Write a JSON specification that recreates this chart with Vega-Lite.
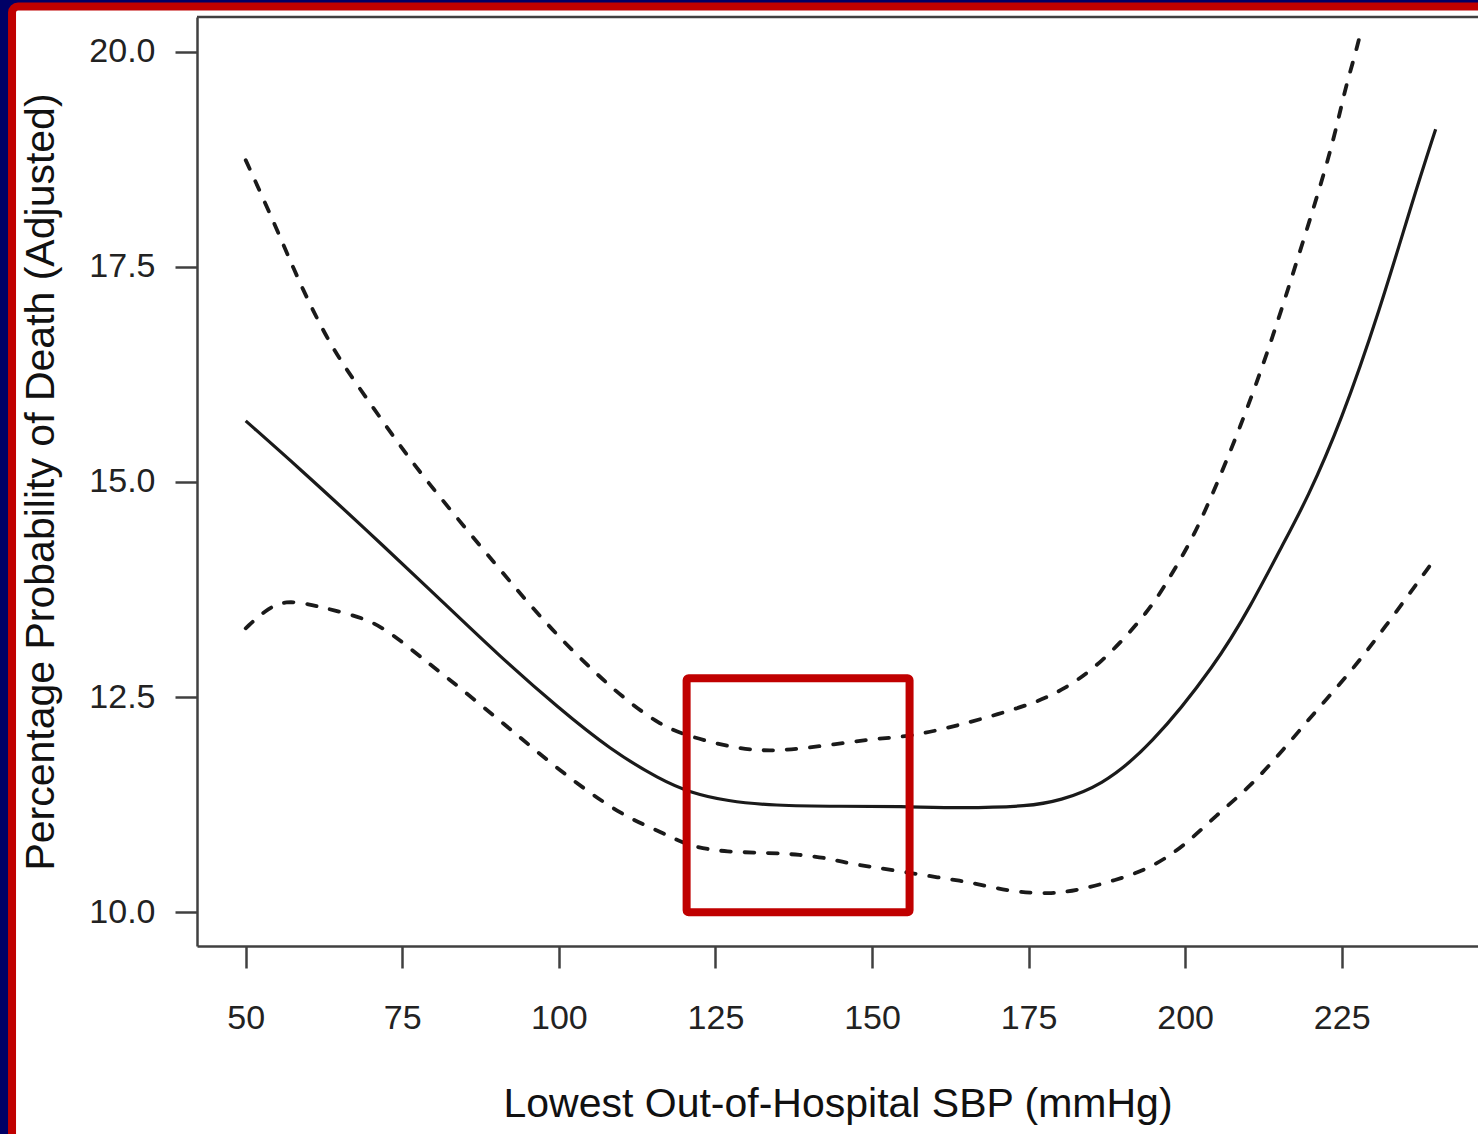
{
  "$schema": "https://vega.github.io/schema/vega-lite/v6.json",
  "width": 1281,
  "height": 929,
  "autosize": {"type": "none"},
  "padding": {"left": 197, "top": 17, "right": 0, "bottom": 188},
  "background": "#000066",
  "config": {
    "view": {"stroke": null},
    "font": "Liberation Sans",
    "axis": {
      "grid": false,
      "domainColor": "#404040",
      "domainWidth": 2.5,
      "tickColor": "#404040",
      "tickWidth": 2.5,
      "tickSize": 22,
      "labelFont": "Liberation Sans",
      "labelFontSize": 34,
      "labelColor": "#222222",
      "titleFont": "Liberation Sans",
      "titleFontSize": 41,
      "titleFontWeight": "normal",
      "titleColor": "#111111"
    }
  },
  "datasets": {
    "curves": [
      {"series": "est", "sbp": 50, "prob": 15.71},
      {"series": "est", "sbp": 58.7, "prob": 15.15},
      {"series": "est", "sbp": 69.3, "prob": 14.44},
      {"series": "est", "sbp": 79.4, "prob": 13.75},
      {"series": "est", "sbp": 90.6, "prob": 12.97},
      {"series": "est", "sbp": 100, "prob": 12.37},
      {"series": "est", "sbp": 108.2, "prob": 11.89},
      {"series": "est", "sbp": 116.2, "prob": 11.54},
      {"series": "est", "sbp": 121, "prob": 11.39},
      {"series": "est", "sbp": 126.9, "prob": 11.29},
      {"series": "est", "sbp": 134.2, "prob": 11.24},
      {"series": "est", "sbp": 145, "prob": 11.23},
      {"series": "est", "sbp": 154.6, "prob": 11.23},
      {"series": "est", "sbp": 164.2, "prob": 11.21},
      {"series": "est", "sbp": 175.2, "prob": 11.23},
      {"series": "est", "sbp": 180, "prob": 11.3},
      {"series": "est", "sbp": 186.4, "prob": 11.46},
      {"series": "est", "sbp": 194.4, "prob": 11.92},
      {"series": "est", "sbp": 205, "prob": 12.89},
      {"series": "est", "sbp": 210.4, "prob": 13.55},
      {"series": "est", "sbp": 215.7, "prob": 14.29},
      {"series": "est", "sbp": 219.4, "prob": 14.79},
      {"series": "est", "sbp": 224.9, "prob": 15.7},
      {"series": "est", "sbp": 231.1, "prob": 17.0},
      {"series": "est", "sbp": 236.4, "prob": 18.29},
      {"series": "est", "sbp": 240, "prob": 19.1},
      {"series": "upper", "sbp": 50, "prob": 18.74},
      {"series": "upper", "sbp": 54.7, "prob": 17.99},
      {"series": "upper", "sbp": 58.7, "prob": 17.29},
      {"series": "upper", "sbp": 63.5, "prob": 16.59},
      {"series": "upper", "sbp": 67.2, "prob": 16.19},
      {"series": "upper", "sbp": 74.7, "prob": 15.41},
      {"series": "upper", "sbp": 80, "prob": 14.91},
      {"series": "upper", "sbp": 90.6, "prob": 13.98},
      {"series": "upper", "sbp": 95.4, "prob": 13.57},
      {"series": "upper", "sbp": 100, "prob": 13.2},
      {"series": "upper", "sbp": 105, "prob": 12.84},
      {"series": "upper", "sbp": 109.8, "prob": 12.52},
      {"series": "upper", "sbp": 116.2, "prob": 12.17},
      {"series": "upper", "sbp": 120.9, "prob": 12.04},
      {"series": "upper", "sbp": 128.9, "prob": 11.89},
      {"series": "upper", "sbp": 135.3, "prob": 11.87},
      {"series": "upper", "sbp": 142.8, "prob": 11.94},
      {"series": "upper", "sbp": 150.8, "prob": 12.02},
      {"series": "upper", "sbp": 155.5, "prob": 12.04},
      {"series": "upper", "sbp": 160.9, "prob": 12.12},
      {"series": "upper", "sbp": 167.3, "prob": 12.24},
      {"series": "upper", "sbp": 175.1, "prob": 12.41},
      {"series": "upper", "sbp": 180, "prob": 12.56},
      {"series": "upper", "sbp": 186.4, "prob": 12.87},
      {"series": "upper", "sbp": 194.4, "prob": 13.51},
      {"series": "upper", "sbp": 197.6, "prob": 13.9},
      {"series": "upper", "sbp": 200.8, "prob": 14.29},
      {"series": "upper", "sbp": 204, "prob": 14.79},
      {"series": "upper", "sbp": 208.8, "prob": 15.63},
      {"series": "upper", "sbp": 213.6, "prob": 16.59},
      {"series": "upper", "sbp": 218.3, "prob": 17.67},
      {"series": "upper", "sbp": 223.4, "prob": 18.86},
      {"series": "upper", "sbp": 225.5, "prob": 19.56},
      {"series": "upper", "sbp": 226.9, "prob": 19.9},
      {"series": "upper", "sbp": 228.2, "prob": 20.27},
      {"series": "lower", "sbp": 50, "prob": 13.3},
      {"series": "lower", "sbp": 53.1, "prob": 13.51},
      {"series": "lower", "sbp": 56.3, "prob": 13.63},
      {"series": "lower", "sbp": 60.8, "prob": 13.57},
      {"series": "lower", "sbp": 64, "prob": 13.51},
      {"series": "lower", "sbp": 68.8, "prob": 13.42},
      {"series": "lower", "sbp": 72, "prob": 13.3},
      {"series": "lower", "sbp": 75.2, "prob": 13.13},
      {"series": "lower", "sbp": 78.9, "prob": 12.91},
      {"series": "lower", "sbp": 81.6, "prob": 12.76},
      {"series": "lower", "sbp": 90.6, "prob": 12.23},
      {"series": "lower", "sbp": 100, "prob": 11.65},
      {"series": "lower", "sbp": 109.8, "prob": 11.13},
      {"series": "lower", "sbp": 116.2, "prob": 10.94},
      {"series": "lower", "sbp": 120.9, "prob": 10.76},
      {"series": "lower", "sbp": 126.8, "prob": 10.7},
      {"series": "lower", "sbp": 133.7, "prob": 10.69},
      {"series": "lower", "sbp": 138.5, "prob": 10.67},
      {"series": "lower", "sbp": 142.8, "prob": 10.63},
      {"series": "lower", "sbp": 146, "prob": 10.57},
      {"series": "lower", "sbp": 153.4, "prob": 10.49},
      {"series": "lower", "sbp": 160.9, "prob": 10.4},
      {"series": "lower", "sbp": 165.7, "prob": 10.35},
      {"series": "lower", "sbp": 172, "prob": 10.24},
      {"series": "lower", "sbp": 178.4, "prob": 10.21},
      {"series": "lower", "sbp": 183.2, "prob": 10.26},
      {"series": "lower", "sbp": 188.8, "prob": 10.37},
      {"series": "lower", "sbp": 194.4, "prob": 10.51},
      {"series": "lower", "sbp": 199.7, "prob": 10.76},
      {"series": "lower", "sbp": 205, "prob": 11.13},
      {"series": "lower", "sbp": 210.4, "prob": 11.46},
      {"series": "lower", "sbp": 215.7, "prob": 11.89},
      {"series": "lower", "sbp": 221, "prob": 12.35},
      {"series": "lower", "sbp": 226.3, "prob": 12.78},
      {"series": "lower", "sbp": 231.6, "prob": 13.28},
      {"series": "lower", "sbp": 239.4, "prob": 14.06}
    ]
  },
  "data": {"name": "curves"},
  "layer": [
    {
      "data": {"values": [{}]},
      "mark": {"type": "rect", "fill": "#ffffff", "stroke": "#c00000", "strokeWidth": 8, "cornerRadius": 6},
      "encoding": {
        "x": {
          "datum": 12.69,
          "type": "quantitative",
          "scale": {"domain": [42.224, 246.76], "nice": false, "zero": false},
          "axis": {
            "title": "Lowest Out-of-Hospital SBP (mmHg)",
            "values": [50, 75, 100, 125, 150, 175, 200, 225],
            "format": "d",
            "labelPadding": 33,
            "titlePadding": 49,
            "zindex": 2
          }
        },
        "x2": {"datum": 266},
        "y": {
          "datum": 20.525,
          "type": "quantitative",
          "scale": {"domain": [9.608, 20.403], "nice": false, "zero": false},
          "axis": {
            "title": "Percentage Probability of Death (Adjusted)",
            "values": [10, 12.5, 15, 17.5, 20],
            "format": ".1f",
            "labelPadding": 20,
            "titlePadding": 26,
            "zindex": 2
          }
        },
        "y2": {"datum": 5.5}
      }
    },
    {
      "data": {"values": [{}]},
      "mark": {"type": "rule", "color": "#404040", "strokeWidth": 2.5},
      "encoding": {
        "x": {"datum": 42.224, "type": "quantitative", "title": "Lowest Out-of-Hospital SBP (mmHg)"},
        "x2": {"datum": 266},
        "y": {"datum": 20.403, "type": "quantitative", "title": "Percentage Probability of Death (Adjusted)"}
      }
    },
    {
      "transform": [{"filter": "datum.series === 'est'"}],
      "mark": {"type": "line", "clip": true, "color": "#1a1a1a", "strokeWidth": 3.2, "interpolate": "basis"},
      "encoding": {
        "x": {"field": "sbp", "type": "quantitative", "title": "Lowest Out-of-Hospital SBP (mmHg)"},
        "y": {"field": "prob", "type": "quantitative", "title": "Percentage Probability of Death (Adjusted)"}
      }
    },
    {
      "transform": [{"filter": "datum.series !== 'est'"}],
      "mark": {"type": "line", "clip": true, "color": "#1a1a1a", "strokeWidth": 3.8, "strokeDash": [9.5, 13.8], "strokeCap": "round", "interpolate": "basis"},
      "encoding": {
        "x": {"field": "sbp", "type": "quantitative", "title": "Lowest Out-of-Hospital SBP (mmHg)"},
        "y": {"field": "prob", "type": "quantitative", "title": "Percentage Probability of Death (Adjusted)"},
        "detail": {"field": "series"}
      }
    },
    {
      "data": {"values": [{}]},
      "mark": {"type": "rect", "fill": null, "filled": false, "stroke": "#c00000", "strokeWidth": 8, "cornerRadius": 2},
      "encoding": {
        "x": {"datum": 120.4, "type": "quantitative", "title": "Lowest Out-of-Hospital SBP (mmHg)"},
        "x2": {"datum": 156.0},
        "y": {"datum": 12.72, "type": "quantitative", "title": "Percentage Probability of Death (Adjusted)"},
        "y2": {"datum": 10.0}
      }
    }
  ]
}
